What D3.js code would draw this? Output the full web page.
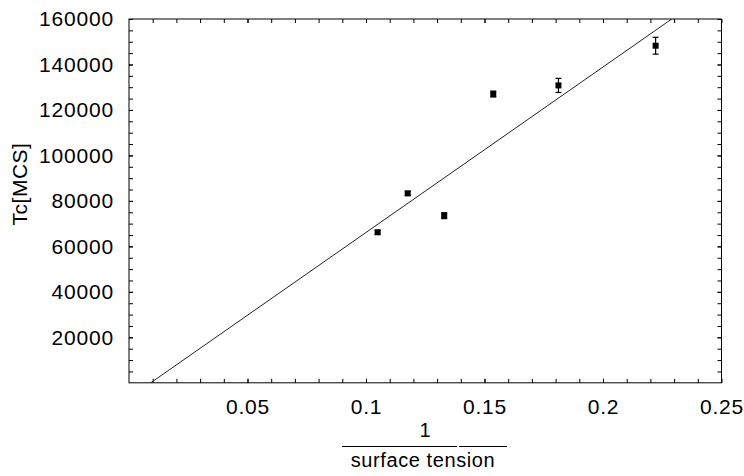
<!DOCTYPE html>
<html>
<head>
<meta charset="utf-8">
<script src="https://cdn.jsdelivr.net/npm/d3@7"></script>
<style>
  body { margin: 0; background: #fff; }
  text { font-family: "Liberation Sans", Arial, sans-serif; }
</style>
</head>
<body>
<div id="chart"></div>
<script>
// measured points: x = 1 / surface tension, y = Tc [MCS]
const invTension = [0.1049, 0.1176, 0.1330, 0.1537, 0.1812, 0.2222];
const tcValues = [66200, 83300, 73500, 127000, 130800, 148250];
const tcErrors = [800, 900, 1300, 1300, 3100, 3700];

// linear fit y = slope * x + intercept
const fitSlope = 727800;
const fitIntercept = -6670;

const xMajorTicks = [0.05, 0.1, 0.15, 0.2, 0.25];
const xTickLabels = ["0.05", "0.1", "0.15", "0.2", "0.25"];
const yMajorTicks = [20000, 40000, 60000, 80000, 100000, 120000, 140000, 160000];
const yTickLabels = ["20000", "40000", "60000", "80000", "100000", "120000", "140000", "160000"];

const W = 744, H = 476;
const plotL = 129, plotT = 19, plotR = 721.5, plotB = 382.8;

const svg = d3.select("#chart").append("svg")
  .attr("width", W).attr("height", H);

const x = d3.scaleLinear().domain([0, 0.25]).range([plotL, plotR]);
const y = d3.scaleLinear().domain([0, 160000]).range([plotB, plotT]);

const xMinor = d3.range(1, 25).map((i) => i / 100);
const yMinor = d3.range(1, 32).map((i) => i * 5000);

const TICK = 4;

// bottom axis
svg.append("g")
  .attr("transform", `translate(0,${plotB})`)
  .call(d3.axisBottom(x).tickValues(xMinor).tickSize(-TICK).tickFormat(""));
svg.append("g")
  .attr("transform", `translate(0,${plotB})`)
  .call(d3.axisBottom(x).tickValues(xMajorTicks).tickSize(-TICK).tickPadding(16)
    .tickFormat((d, i) => xTickLabels[i]));
// top axis
svg.append("g")
  .attr("transform", `translate(0,${plotT})`)
  .call(d3.axisTop(x).tickValues(xMinor.concat(xMajorTicks)).tickSize(-TICK).tickFormat(""));
// left axis
svg.append("g")
  .attr("transform", `translate(${plotL},0)`)
  .call(d3.axisLeft(y).tickValues(yMinor).tickSize(-TICK).tickFormat(""));
svg.append("g")
  .attr("transform", `translate(${plotL},0)`)
  .call(d3.axisLeft(y).tickValues(yMajorTicks).tickSize(-TICK).tickPadding(15)
    .tickFormat((d, i) => yTickLabels[i]));
// right axis
svg.append("g")
  .attr("transform", `translate(${plotR},0)`)
  .call(d3.axisRight(y).tickValues(yMinor.concat(yMajorTicks)).tickSize(-TICK).tickFormat(""));

svg.selectAll(".domain").remove();
svg.selectAll(".tick line").attr("stroke", "#000").attr("stroke-width", 1);
svg.selectAll(".tick text")
  .attr("fill", "#000")
  .style("font-size", "21px")
  .style("letter-spacing", "0.8px");

// frame
svg.append("rect")
  .attr("x", plotL).attr("y", plotT)
  .attr("width", plotR - plotL).attr("height", plotB - plotT)
  .attr("fill", "none").attr("stroke", "#000").attr("stroke-width", 1);

// fit line, clipped to the plot box
svg.append("clipPath").attr("id", "plotclip")
  .append("rect")
  .attr("x", plotL).attr("y", plotT)
  .attr("width", plotR - plotL).attr("height", plotB - plotT);

const fitX = [x.domain()[0], x.domain()[1]];
svg.append("line")
  .attr("clip-path", "url(#plotclip)")
  .attr("x1", x(fitX[0])).attr("y1", y(fitSlope * fitX[0] + fitIntercept))
  .attr("x2", x(fitX[1])).attr("y2", y(fitSlope * fitX[1] + fitIntercept))
  .attr("stroke", "#222").attr("stroke-width", 1);

// data points with error bars
const pts = invTension.map((v, i) => ({ x: v, y: tcValues[i], e: tcErrors[i] }));
const g = svg.append("g");
const CAP = 3, SQ = 6;

g.selectAll("line.err").data(pts).join("line")
  .attr("class", "err")
  .attr("x1", (d) => x(d.x)).attr("x2", (d) => x(d.x))
  .attr("y1", (d) => y(d.y - d.e)).attr("y2", (d) => y(d.y + d.e))
  .attr("stroke", "#000").attr("stroke-width", 1.2);
g.selectAll("line.capTop").data(pts).join("line")
  .attr("class", "capTop")
  .attr("x1", (d) => x(d.x) - CAP).attr("x2", (d) => x(d.x) + CAP)
  .attr("y1", (d) => y(d.y + d.e)).attr("y2", (d) => y(d.y + d.e))
  .attr("stroke", "#000").attr("stroke-width", 1.2);
g.selectAll("line.capBot").data(pts).join("line")
  .attr("class", "capBot")
  .attr("x1", (d) => x(d.x) - CAP).attr("x2", (d) => x(d.x) + CAP)
  .attr("y1", (d) => y(d.y - d.e)).attr("y2", (d) => y(d.y - d.e))
  .attr("stroke", "#000").attr("stroke-width", 1.2);
g.selectAll("rect").data(pts).join("rect")
  .attr("x", (d) => x(d.x) - SQ / 2).attr("y", (d) => y(d.y) - SQ / 2)
  .attr("width", SQ).attr("height", SQ)
  .attr("fill", "#000");

// y axis label
svg.append("text")
  .attr("transform", "translate(27,184) rotate(-90)")
  .attr("text-anchor", "middle")
  .style("font-size", "21px")
  .style("letter-spacing", "0.5px")
  .text("Tc[MCS]");

// x axis label as a fraction
svg.append("text")
  .attr("x", 425).attr("y", 437)
  .attr("text-anchor", "middle")
  .style("font-size", "20px")
  .text("1");
svg.append("line")
  .attr("x1", 342).attr("x2", 457).attr("y1", 446.5).attr("y2", 446.5)
  .attr("stroke", "#000").attr("stroke-width", 1);
svg.append("line")
  .attr("x1", 459).attr("x2", 507).attr("y1", 446.5).attr("y2", 446.5)
  .attr("stroke", "#000").attr("stroke-width", 1);
svg.append("text")
  .attr("x", 423).attr("y", 467)
  .attr("text-anchor", "middle")
  .style("font-size", "20px")
  .style("letter-spacing", "0.6px")
  .text("surface tension");
</script>
</body>
</html>
